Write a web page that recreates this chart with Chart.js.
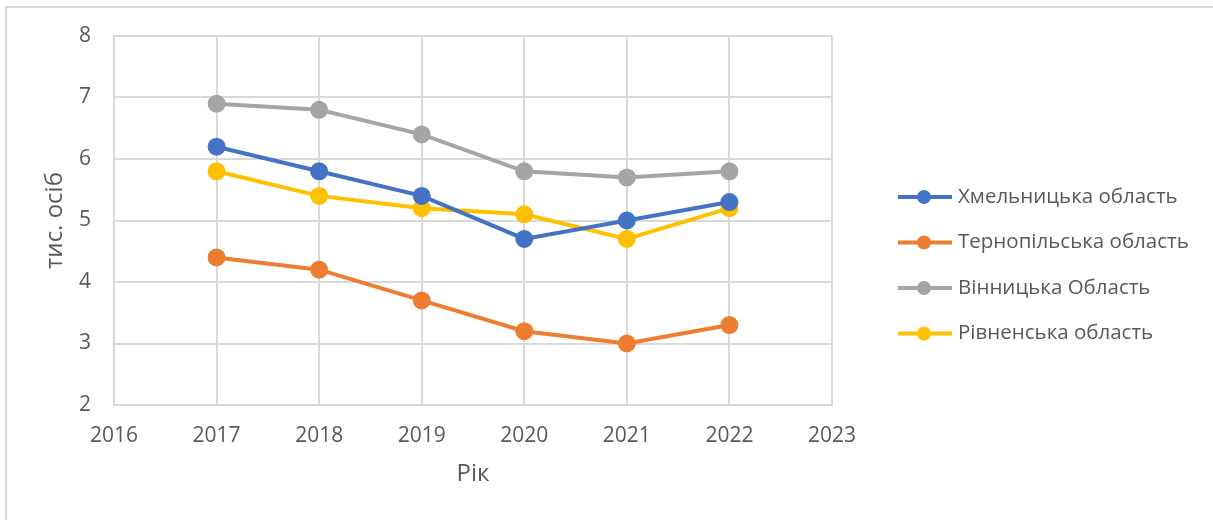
<!DOCTYPE html>
<html>
<head>
<meta charset="utf-8">
<script src="https://cdn.jsdelivr.net/npm/chart.js@4.4.0/dist/chart.umd.min.js"></script>
<style>
  html, body { margin: 0; padding: 0; background: #fff; overflow: hidden; }
  #frame { position: absolute; left: 5px; top: 6px; width: 1400px; height: 700px; border: 2px solid #d9d9d9; }
  #wrap { position: absolute; left: 0; top: 0; width: 1213px; height: 520px; }
</style>
</head>
<body>
<div id="frame"></div>
<div id="wrap"><canvas id="chart"></canvas></div>
<script>
'use strict';

const years = [2017, 2018, 2019, 2020, 2021, 2022];
const khmelnytska = [6.2, 5.8, 5.4, 4.7, 5.0, 5.3];
const ternopilska = [4.4, 4.2, 3.7, 3.2, 3.0, 3.3];
const vinnytska = [6.9, 6.8, 6.4, 5.8, 5.7, 5.8];
const rivnenska = [5.8, 5.4, 5.2, 5.1, 4.7, 5.2];

const seriesNames = ['Хмельницька область', 'Тернопільська область', 'Вінницька Область', 'Рівненська область'];
const seriesColors = ['#4472C4', '#ED7D31', '#A5A5A5', '#FFC000'];

const textColor = '#595959';
const fontFamily = '"Open Sans", "Noto Sans", sans-serif';

function makeSet(i, values) {
  return {
    label: seriesNames[i],
    data: years.map((y, k) => ({ x: y, y: values[k] })),
    borderColor: seriesColors[i],
    backgroundColor: seriesColors[i],
    borderWidth: 4,
    pointRadius: 7,
    pointHoverRadius: 7,
    tension: 0
  };
}

// draws the legend on the right, like the office one
const sideLegend = {
  id: 'sideLegend',
  afterDraw(chart) {
    const ctx = chart.ctx;
    ctx.save();
    ctx.font = '20.5px ' + fontFamily;
    ctx.textBaseline = 'middle';
    chart.data.datasets.forEach((ds, i) => {
      const y = 197 + i * 45.5;
      ctx.strokeStyle = ds.borderColor;
      ctx.lineWidth = 4;
      ctx.beginPath();
      ctx.moveTo(898, y);
      ctx.lineTo(952, y);
      ctx.stroke();
      ctx.fillStyle = ds.borderColor;
      ctx.beginPath();
      ctx.arc(924, y, 7, 0, Math.PI * 2);
      ctx.fill();
      ctx.fillStyle = textColor;
      ctx.fillText(ds.label, 958, y);
    });
    ctx.restore();
  }
};

const config = {
  type: 'line',
  data: {
    datasets: [
      makeSet(0, khmelnytska),
      makeSet(1, ternopilska),
      makeSet(2, vinnytska),
      makeSet(3, rivnenska)
    ]
  },
  options: {
    responsive: false,
    animation: false,
    layout: { padding: { left: 0, right: 381, top: 36, bottom: 0 } },
    plugins: { legend: { display: false }, tooltip: { enabled: false } },
    scales: {
      x: {
        type: 'linear',
        min: 2016,
        max: 2023,
        ticks: { stepSize: 1, color: textColor, font: { size: 21, family: fontFamily }, padding: 18, callback: v => String(v) },
        grid: { color: '#d9d9d9', lineWidth: 2, drawTicks: false },
        border: { color: '#d9d9d9', width: 2 },
        title: { display: true, text: 'Рік', color: textColor, font: { size: 24, family: fontFamily }, padding: { top: 0, bottom: 31 } },
        afterFit(scale) { scale.height = 115; }
      },
      y: {
        min: 2,
        max: 8,
        ticks: { stepSize: 1, color: textColor, font: { size: 21, family: fontFamily }, padding: 23 },
        grid: { color: '#d9d9d9', lineWidth: 2, drawTicks: false },
        border: { color: '#d9d9d9', width: 2 },
        title: { display: true, text: 'тис. осіб', color: textColor, font: { size: 24, family: fontFamily }, padding: { top: 41, bottom: 0 } },
        afterFit(scale) { scale.width = 114; }
      }
    }
  },
  plugins: [sideLegend]
};

const canvasElem = document.getElementById('chart');
canvasElem.width = 1213;
canvasElem.height = 520;
new Chart(canvasElem, config);
</script>
</body>
</html>
